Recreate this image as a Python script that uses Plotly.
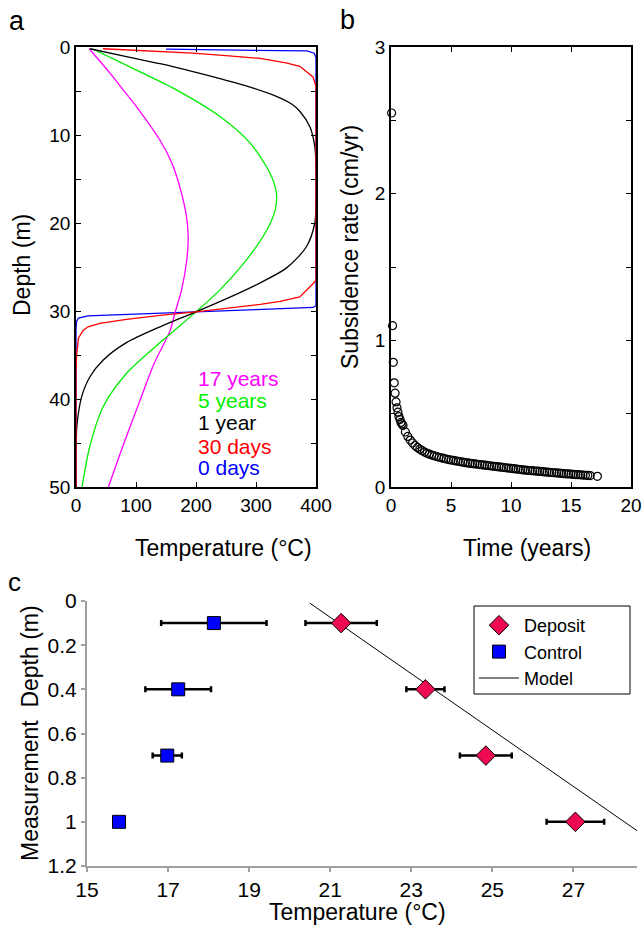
import plotly.graph_objects as go

W, H = 644, 931
FONT = "Liberation Sans, Arial, Helvetica, sans-serif"

# ---------------- Panel a: temperature profiles (T in °C, depth in m) ----------------
T_0d = [150, 300, 385, 397, 400, 400, 395, 300, 200, 100, 20, 4, 1, 0, 0]
D_0d = [0.25, 0.35, 0.45, 0.7, 1.2, 29.4, 29.6, 29.85, 30.1, 30.35, 30.55, 30.8, 31.2, 32, 50]

T_30d = [45, 120, 195, 255, 307, 350, 373, 395, 400, 400, 395, 373, 340, 307, 251, 200, 140, 84, 40, 20, 12, 4, 1, 0, 0]
D_30d = [0.2, 0.45, 0.7, 1.0, 1.3, 1.8, 2.2, 3.4, 4.5, 26.5, 26.9, 28.4, 28.9, 29.25, 29.7, 30.1, 30.5, 30.95, 31.4, 31.8, 32.2, 33.1, 35, 37, 50]

T_1y = [23, 84, 140, 195, 240, 278, 334, 360, 373, 390, 398, 400, 400, 398, 384, 351, 307, 251, 200, 140, 84, 45, 23, 9.6, 2, 0, 0]
D_1y = [0.2, 1.1, 1.9, 2.8, 3.6, 4.3, 5.6, 6.5, 7.3, 9.1, 11.3, 13.5, 17.5, 20, 22.7, 25.1, 26.8, 28.6, 30.1, 31.8, 33.6, 35.6, 37.5, 39.7, 42.7, 45.5, 50]

T_5y = [27, 100, 168, 240, 290, 323, 334, 332, 318, 284, 240, 200, 145, 84, 45, 23, 10]
D_5y = [0.2, 2.6, 4.9, 7.9, 10.9, 14.3, 16.6, 18.5, 20.8, 24.2, 27.6, 30.1, 33.3, 37.1, 40.9, 45.4, 50]

T_17y = [22, 57, 79, 101, 140, 160, 170, 178, 184, 187, 185, 176, 165, 157, 130, 107, 80, 54]
D_17y = [0.2, 3, 4.9, 6.8, 10.6, 13.2, 15.2, 17.2, 19.2, 21.5, 24, 27.6, 30.2, 32.2, 36, 40.1, 45, 50]

labels_a = ["17 years", "5 years", "1 year", "30 days", "0 days"]

# ---------------- Panel b: subsidence rate ----------------
time_yr = [0.05, 0.13, 0.19, 0.27, 0.34, 0.42, 0.5, 0.58, 0.66, 0.75, 0.83, 0.92,
           1.0, 1.2, 1.4, 1.6, 1.8, 2.0, 2.2, 2.4, 2.6, 2.8, 3.0, 3.2, 3.4, 3.6, 3.8,
           4.0, 4.2, 4.4, 4.6, 4.8, 5.0, 5.2, 5.4, 5.6, 5.8, 6.0, 6.2, 6.4, 6.6, 6.8,
           7.0, 7.2, 7.4, 7.6, 7.8, 8.0, 8.2, 8.4, 8.6, 8.8, 9.0, 9.2, 9.4, 9.6, 9.8,
           10.0, 10.2, 10.4, 10.6, 10.8, 11.0, 11.2, 11.4, 11.6, 11.8, 12.0, 12.2, 12.4,
           12.6, 12.8, 13.0, 13.2, 13.4, 13.6, 13.8, 14.0, 14.2, 14.4, 14.6, 14.8, 15.0,
           15.2, 15.4, 15.6, 15.8, 16.0, 16.2, 16.4, 16.6, 17.2]
rate_cmyr = [2.55, 1.10, 0.85, 0.71, 0.64, 0.58, 0.54, 0.51, 0.48, 0.46, 0.44, 0.43,
             0.42, 0.375, 0.345, 0.32, 0.30, 0.283, 0.27, 0.258, 0.248, 0.238, 0.23, 0.224, 0.218, 0.213, 0.208,
             0.203, 0.199, 0.195, 0.191, 0.187, 0.184, 0.181, 0.178, 0.175, 0.172, 0.169, 0.166, 0.164, 0.161, 0.159,
             0.157, 0.155, 0.153, 0.151, 0.149, 0.147, 0.145, 0.143, 0.141, 0.139, 0.137, 0.135, 0.133, 0.131, 0.129,
             0.127, 0.125, 0.123, 0.121, 0.119, 0.117, 0.115, 0.114, 0.112, 0.111, 0.109, 0.108, 0.106,
             0.105, 0.103, 0.102, 0.100, 0.099, 0.097, 0.096, 0.094, 0.093, 0.091, 0.090, 0.089, 0.088,
             0.086, 0.085, 0.084, 0.083, 0.081, 0.080, 0.079, 0.078, 0.073]

# ---------------- Panel c: measurements ----------------
depth_c = [0.1, 0.4, 0.7, 1.0]
deposit_T = [21.27, 23.35, 24.84, 27.05]
deposit_err = [0.88, 0.47, 0.64, 0.71]
control_T = [18.13, 17.25, 16.98, 15.79]
control_err = [1.3, 0.81, 0.36, 0]
model_T = [20.5, 28.57]
model_depth = [0.01, 1.04]

fig = go.Figure()

curves = [
    (T_0d, D_0d, "#0000ff", "linear"),
    (T_17y, D_17y, "#ff00ff", "spline"),
    (T_5y, D_5y, "#00ee00", "spline"),
    (T_1y, D_1y, "#000000", "spline"),
    (T_30d, D_30d, "#ff0000", "linear"),
]
for T, D, col, shp in curves:
    fig.add_trace(go.Scatter(x=T, y=D, mode="lines", line=dict(color=col, width=1.3, shape=shp, smoothing=0.8),
                             xaxis="x", yaxis="y", showlegend=False, hoverinfo="skip"))

fig.add_trace(go.Scatter(x=time_yr, y=rate_cmyr, mode="markers",
                         marker=dict(symbol="circle-open", size=8, color="black", line=dict(width=1.2)),
                         xaxis="x2", yaxis="y2", showlegend=False, cliponaxis=False))

fig.add_trace(go.Scatter(x=model_T, y=model_depth, mode="lines", name="Model",
                         line=dict(color="black", width=1), xaxis="x3", yaxis="y3", legendrank=3))
fig.add_trace(go.Scatter(x=deposit_T, y=depth_c, mode="markers", name="Deposit",
                         marker=dict(symbol="diamond", size=15, color="#ee0a50", line=dict(color="black", width=1)),
                         error_x=dict(type="data", array=deposit_err, color="black", thickness=2.5, width=3),
                         xaxis="x3", yaxis="y3", legendrank=1))
fig.add_trace(go.Scatter(x=control_T, y=depth_c, mode="markers", name="Control",
                         marker=dict(symbol="square", size=13, color="#0000ff", line=dict(color="black", width=1)),
                         error_x=dict(type="data", array=control_err, color="black", thickness=2.5, width=3),
                         xaxis="x3", yaxis="y3", legendrank=2))

def px_x(p):
    return p / W

def px_y(p):
    return 1 - p / H

box_axis = dict(showline=True, linecolor="black", linewidth=1.6, mirror="ticks", ticks="inside",
                ticklen=5, tickwidth=1, tickcolor="black", showgrid=False, zeroline=False, automargin=False,
                tickfont=dict(size=19, color="black", family=FONT))
grey_axis = dict(showline=True, linecolor="#a0a0a0", linewidth=2, ticks="outside", ticklen=4,
                 tickcolor="#a0a0a0", tickwidth=2, showgrid=False, zeroline=False, automargin=False,
                 tickfont=dict(size=21, color="black", family=FONT))

layout_axes = dict(
    xaxis=dict(box_axis, domain=[px_x(76), px_x(316)], range=[0, 400], dtick=100, anchor="y"),
    yaxis=dict(box_axis, domain=[px_y(487), px_y(47)], range=[50, 0], dtick=10, anchor="x",
               minor=dict(dtick=5, ticks="inside", ticklen=5, tickcolor="black")),
    xaxis2=dict(box_axis, domain=[px_x(391), px_x(631)], range=[0, 20], dtick=5, anchor="y2"),
    yaxis2=dict(box_axis, domain=[px_y(487), px_y(47)], range=[0, 3], dtick=1, anchor="x2",
                minor=dict(dtick=0.5, ticks="inside", ticklen=5, tickcolor="black")),
    xaxis3=dict(grey_axis, domain=[px_x(87), px_x(637)], range=[15, 28.57], tick0=15, dtick=2, anchor="y3"),
    yaxis3=dict(grey_axis, domain=[px_y(866), px_y(601)], range=[1.2, 0], dtick=0.2, anchor="x3"),
)

ann = []
def text(x, y, s, size, color="black", angle=0, xanchor="center"):
    ann.append(dict(x=px_x(x), y=px_y(y), xref="paper", yref="paper", text=s, showarrow=False,
                    font=dict(size=size, color=color, family=FONT), textangle=angle,
                    xanchor=xanchor, yanchor="middle"))

text(17, 21, "a", 27)
text(347, 20, "b", 27)
text(14, 582, "c", 26)
text(223, 548, "Temperature (°C)", 23)
text(527, 548, "Time (years)", 23)
text(22, 265, "Depth (m)", 23, angle=-90)
text(350, 247, "Subsidence rate (cm/yr)", 23, angle=-90)
text(357, 912, "Temperature (°C)", 23)
text(30, 733, "Measurement  Depth (m)", 23, angle=-90)
label_cols = ["#ff00ff", "#00ee00", "#000000", "#ff0000", "#0000ff"]
label_y = [378, 401, 423, 446, 468]
for s, c, yy in zip(labels_a, label_cols, label_y):
    text(196, yy, s, 21, color=c, xanchor="left")

fig.update_layout(
    width=W, height=H, margin=dict(l=0, r=0, t=0, b=0),
    paper_bgcolor="white", plot_bgcolor="white",
    font=dict(family=FONT, color="black"),
    annotations=ann,
    showlegend=True,
    legend=dict(x=px_x(474), y=px_y(607), xanchor="left", yanchor="top",
                borderwidth=0, bgcolor="rgba(255,255,255,0)",
                font=dict(size=18, family=FONT, color="black"),
                itemwidth=40),
    shapes=[dict(type="rect", xref="paper", yref="paper",
                 x0=px_x(474), x1=px_x(630), y0=px_y(694), y1=px_y(606),
                 line=dict(color="black", width=1))],
    **layout_axes,
)

fig.write_html("out.html", config={"displayModeBar": False},
               post_script="document.body.style.margin='0px';document.body.style.padding='0px';")
